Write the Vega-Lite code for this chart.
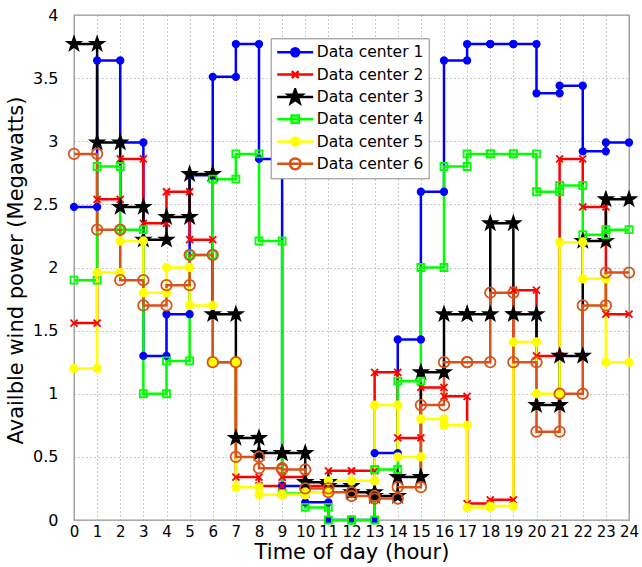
{
  "$schema": "https://vega.github.io/schema/vega-lite/v6.json",
  "width": 555,
  "height": 505,
  "autosize": {"type": "none"},
  "padding": {"left": 74, "top": 15, "right": 13, "bottom": 47},
  "background": "white",
  "config": {"view": {"stroke": "#999999", "strokeWidth": 1.3}, "font": "DejaVu Sans"},
  "data": {
    "values": [
      {"h0": 0, "h1": 1, "Data center 1": 2.48, "Data center 2": 1.56, "Data center 3": 3.77, "Data center 4": 1.90, "Data center 5": 1.20, "Data center 6": 2.90},
      {"h0": 1, "h1": 2, "Data center 1": 3.64, "Data center 2": 2.54, "Data center 3": 2.99, "Data center 4": 2.80, "Data center 5": 1.96, "Data center 6": 2.30},
      {"h0": 2, "h1": 3, "Data center 1": 2.99, "Data center 2": 2.86, "Data center 3": 2.48, "Data center 4": 2.30, "Data center 5": 2.21, "Data center 6": 1.90},
      {"h0": 3, "h1": 4, "Data center 1": 1.30, "Data center 2": 2.35, "Data center 3": 2.22, "Data center 4": 1.00, "Data center 5": 1.80, "Data center 6": 1.70},
      {"h0": 4, "h1": 5, "Data center 1": 1.63, "Data center 2": 2.60, "Data center 3": 2.40, "Data center 4": 1.26, "Data center 5": 2.00, "Data center 6": 1.86},
      {"h0": 5, "h1": 6, "Data center 1": 2.73, "Data center 2": 2.22, "Data center 3": 2.74, "Data center 4": 2.10, "Data center 5": 1.70, "Data center 6": 2.10},
      {"h0": 6, "h1": 7, "Data center 1": 3.51, "Data center 2": 1.25, "Data center 3": 1.63, "Data center 4": 2.70, "Data center 5": 1.25, "Data center 6": 1.25},
      {"h0": 7, "h1": 8, "Data center 1": 3.77, "Data center 2": 0.34, "Data center 3": 0.65, "Data center 4": 2.90, "Data center 5": 0.26, "Data center 6": 0.50},
      {"h0": 8, "h1": 9, "Data center 1": 2.86, "Data center 2": 0.27, "Data center 3": 0.53, "Data center 4": 2.21, "Data center 5": 0.20, "Data center 6": 0.41},
      {"h0": 9, "h1": 10, "Data center 1": 0.27, "Data center 2": 0.34, "Data center 3": 0.53, "Data center 4": 0.21, "Data center 5": 0.20, "Data center 6": 0.40},
      {"h0": 10, "h1": 11, "Data center 1": 0.14, "Data center 2": 0.27, "Data center 3": 0.30, "Data center 4": 0.10, "Data center 5": 0.22, "Data center 6": 0.25},
      {"h0": 11, "h1": 12, "Data center 1": 0.00, "Data center 2": 0.39, "Data center 3": 0.27, "Data center 4": 0.00, "Data center 5": 0.31, "Data center 6": 0.22},
      {"h0": 12, "h1": 13, "Data center 1": 0.00, "Data center 2": 0.39, "Data center 3": 0.22, "Data center 4": 0.00, "Data center 5": 0.31, "Data center 6": 0.19},
      {"h0": 13, "h1": 14, "Data center 1": 0.53, "Data center 2": 1.17, "Data center 3": 0.19, "Data center 4": 0.40, "Data center 5": 0.91, "Data center 6": 0.17},
      {"h0": 14, "h1": 15, "Data center 1": 1.43, "Data center 2": 0.65, "Data center 3": 0.34, "Data center 4": 1.10, "Data center 5": 0.50, "Data center 6": 0.26},
      {"h0": 15, "h1": 16, "Data center 1": 2.60, "Data center 2": 1.05, "Data center 3": 1.17, "Data center 4": 2.00, "Data center 5": 0.80, "Data center 6": 0.91},
      {"h0": 16, "h1": 17, "Data center 1": 3.64, "Data center 2": 0.98, "Data center 3": 1.63, "Data center 4": 2.80, "Data center 5": 0.75, "Data center 6": 1.25},
      {"h0": 17, "h1": 18, "Data center 1": 3.77, "Data center 2": 0.13, "Data center 3": 1.63, "Data center 4": 2.90, "Data center 5": 0.10, "Data center 6": 1.25},
      {"h0": 18, "h1": 19, "Data center 1": 3.77, "Data center 2": 0.16, "Data center 3": 2.35, "Data center 4": 2.90, "Data center 5": 0.11, "Data center 6": 1.80},
      {"h0": 19, "h1": 20, "Data center 1": 3.77, "Data center 2": 1.82, "Data center 3": 1.63, "Data center 4": 2.90, "Data center 5": 1.41, "Data center 6": 1.25},
      {"h0": 20, "h1": 21, "Data center 1": 3.38, "Data center 2": 1.30, "Data center 3": 0.91, "Data center 4": 2.60, "Data center 5": 1.00, "Data center 6": 0.70},
      {"h0": 21, "h1": 22, "Data center 1": 3.44, "Data center 2": 2.86, "Data center 3": 1.30, "Data center 4": 2.65, "Data center 5": 2.20, "Data center 6": 1.00},
      {"h0": 22, "h1": 23, "Data center 1": 2.92, "Data center 2": 2.48, "Data center 3": 2.21, "Data center 4": 2.26, "Data center 5": 1.91, "Data center 6": 1.70},
      {"h0": 23, "h1": 24, "Data center 1": 2.99, "Data center 2": 1.63, "Data center 3": 2.54, "Data center 4": 2.30, "Data center 5": 1.25, "Data center 6": 1.96}
    ]
  },
  "transform": [
    {"fold": ["Data center 1", "Data center 2", "Data center 3", "Data center 4", "Data center 5", "Data center 6"], "as": ["series", "value"]},
    {"fold": ["h0", "h1"], "as": ["endKey", "hour"]}
  ],
  "encoding": {
    "x": {
      "field": "hour", "type": "quantitative",
      "scale": {"domain": [0, 24], "nice": false, "zero": false},
      "axis": {
        "values": [0,1,2,3,4,5,6,7,8,9,10,11,12,13,14,15,16,17,18,19,20,21,22,23,24],
        "format": "d", "labelFont": "DejaVu Sans", "labelFontSize": 15, "labelColor": "black",
        "labelPadding": 4, "ticks": false, "tickSize": 0, "domain": false,
        "grid": true, "gridColor": "#999999", "gridDash": [1, 3], "gridWidth": 1,
        "labelFlush": false, "labelOverlap": false,
        "title": "Time of day (hour)", "titleFont": "DejaVu Sans", "titleFontSize": 21,
        "titleFontWeight": "normal", "titleColor": "black", "titleY": 38, "titleBaseline": "alphabetic"
      }
    },
    "y": {
      "field": "value", "type": "quantitative",
      "scale": {"domain": [0, 4], "nice": false, "zero": false},
      "axis": {
        "values": [0, 0.5, 1, 1.5, 2, 2.5, 3, 3.5, 4],
        "format": "~g", "labelFont": "DejaVu Sans", "labelFontSize": 16, "labelColor": "black",
        "labelPadding": 16, "ticks": false, "tickSize": 0, "domain": false,
        "grid": true, "gridColor": "#999999", "gridDash": [1, 3], "gridWidth": 1,
        "labelFlush": false, "labelOverlap": false,
        "title": "Availble wind power (Megawatts)", "titleFont": "DejaVu Sans", "titleFontSize": 21,
        "titleFontWeight": "normal", "titleColor": "black", "titleX": -52, "titleY": 255, "titleBaseline": "alphabetic"
      }
    }
  },
  "layer": [
    {
      "mark": {"type": "line", "strokeWidth": 2.5},
      "encoding": {
        "color": {
          "field": "series", "type": "nominal",
          "scale": {"domain": ["Data center 1", "Data center 2", "Data center 3", "Data center 4", "Data center 5", "Data center 6"],
                    "range": ["#0000FF", "#FF0000", "#000000", "#00FF00", "#FFFF00", "#D95319"]},
          "legend": {
            "title": null, "orient": "none", "legendX": 196.7, "legendY": 23.3, "direction": "vertical",
            "fillColor": "white", "strokeColor": "#888888", "padding": 5,
            "symbolSize": 1296, "symbolStrokeWidth": 2.5, "symbolType": "stroke",
            "clipHeight": 18, "rowPadding": 4.3,
            "labelFont": "DejaVu Sans", "labelFontSize": 15.5, "labelColor": "black", "labelOffset": 2, "labelLimit": 300,
            "encode": {
              "symbols": {
                "update": {
                  "shape": {"signal": "['M-1,0L1,0M0.22,0A0.22,0.22,0,1,1,-0.22,0A0.22,0.22,0,1,1,0.22,0Z','M-1,0L1,0M-0.19,-0.19L0.19,0.19M0.19,-0.19L-0.19,0.19','M-1,0L1,0M0,-0.42L0.1,-0.138L0.4,-0.13L0.162,0.053L0.247,0.34L0,0.17L-0.247,0.34L-0.162,0.053L-0.4,-0.13L-0.1,-0.138Z','M-1,0L1,0M-0.2,-0.2H0.2V0.2H-0.2Z','M-1,0L1,0M0.22,0A0.22,0.22,0,1,1,-0.22,0A0.22,0.22,0,1,1,0.22,0Z','M-1,0L1,0M0.3,0A0.3,0.3,0,1,1,-0.3,0A0.3,0.3,0,1,1,0.3,0Z'][toNumber(slice(datum.value,-1))-1]"},
                  "fill": {"signal": "['#0000FF','transparent','#000000','transparent','#FFFF00','transparent'][toNumber(slice(datum.value,-1))-1]"},
                  "stroke": {"signal": "['#0000FF','#FF0000','#000000','#00FF00','#FFFF00','#D95319'][toNumber(slice(datum.value,-1))-1]"},
                  "strokeWidth": {"value": 2.5},
                  "size": {"value": 1296},
                  "opacity": {"value": 1}
                }
              }
            }
          }
        },
        "order": [{"field": "h0", "type": "quantitative"}, {"field": "endKey", "type": "ordinal"}]
      }
    },
    {
      "mark": {"type": "point", "filled": false, "strokeWidth": 1.8, "opacity": 1},
      "encoding": {
        "stroke": {
          "condition": [
            {"test": "datum.series === 'Data center 2'", "value": "#FF0000"},
            {"test": "datum.series === 'Data center 3'", "value": "#000000"},
            {"test": "datum.series === 'Data center 4'", "value": "#00FF00"},
            {"test": "datum.series === 'Data center 5'", "value": "#FFFF00"},
            {"test": "datum.series === 'Data center 6'", "value": "#D95319"}
          ],
          "value": "#0000FF"
        },
        "fill": {
          "condition": [
            {"test": "datum.series === 'Data center 1'", "value": "#0000FF"},
            {"test": "datum.series === 'Data center 3'", "value": "#000000"},
            {"test": "datum.series === 'Data center 5'", "value": "#FFFF00"}
          ],
          "value": "transparent"
        },
        "shape": {
          "condition": [
            {"test": "datum.series === 'Data center 2'", "value": "M-1,-1L1,1M1,-1L-1,1"},
            {"test": "datum.series === 'Data center 3'", "value": "M0,-1L0.235,-0.324L0.951,-0.309L0.38,0.124L0.588,0.809L0,0.4L-0.588,0.809L-0.38,0.124L-0.951,-0.309L-0.235,-0.324Z"},
            {"test": "datum.series === 'Data center 4'", "value": "square"}
          ],
          "value": "circle"
        },
        "size": {
          "condition": [
            {"test": "datum.series === 'Data center 3'", "value": 196},
            {"test": "datum.series === 'Data center 6'", "value": 110},
            {"test": "datum.series === 'Data center 4'", "value": 49},
            {"test": "datum.series === 'Data center 2'", "value": 49},
            {"test": "datum.series === 'Data center 5'", "value": 56}
          ],
          "value": 42
        },
        "order": {"field": "series", "type": "ordinal"}
      }
    }
  ]
}
